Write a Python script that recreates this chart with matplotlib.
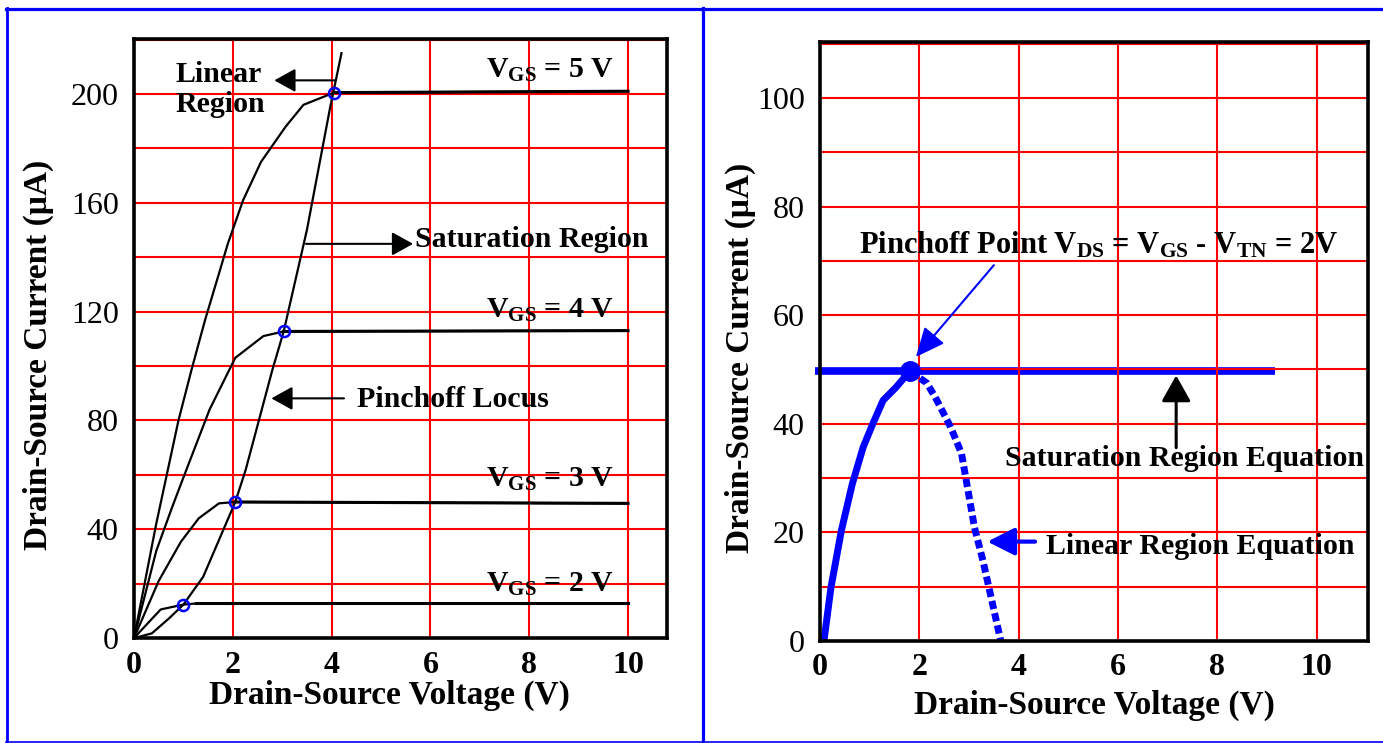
import matplotlib
matplotlib.use('Agg')
import matplotlib.pyplot as plt
from matplotlib.lines import Line2D

plt.rcParams['font.family'] = ['Liberation Serif', 'DejaVu Serif']
plt.rcParams['mathtext.fontset'] = 'custom'
plt.rcParams['mathtext.rm'] = 'Liberation Serif:bold'
plt.rcParams['mathtext.bf'] = 'Liberation Serif:bold'
plt.rcParams['mathtext.it'] = 'Liberation Serif:bold'

# ---- left panel: output characteristics
vds_5 = [0, 0.45, 0.9, 1.17, 1.44, 1.72, 1.9, 2.21, 2.57, 3.07, 3.43, 4.05, 10]
id_5 = [0, 42, 80, 99, 117, 134, 145, 161, 175, 188, 196, 200.5, 201]
vds_4 = [0, 0.45, 0.77, 1.0, 1.53, 2.05, 2.62, 3.03, 10]
id_4 = [0, 32, 48, 59, 84, 103, 111, 112.7, 113]
vds_3 = [0, 0.5, 0.95, 1.31, 1.72, 2.05, 10]
id_3 = [0, 21, 35.4, 44, 49.5, 50, 49.5]
vds_2 = [0, 0.54, 1.0, 1.26, 10]
id_2 = [0, 10.5, 12.3, 12.7, 12.7]
locus_v = [0, 0.36, 0.72, 1.0, 1.4, 2.05, 2.26, 2.8, 3.03, 3.5, 3.97, 4.2]
locus_i = [0, 1.7, 7.4, 12.3, 22.5, 50, 61.8, 98.5, 112.7, 150, 195, 215]
pinch_v = [1.0, 2.05, 3.03, 4.05]
pinch_i = [12.3, 50, 112.7, 200.5]
vgs_labels = ['5', '4', '3', '2']
vgs_label_y = [205.9, 117.6, 55.5, 16.9]

# ---- right panel: one curve, VGS - VTN = 2 V
lin_v = [0.08, 0.22, 0.43, 0.65, 0.87, 1.05, 1.27, 1.53, 1.81]
lin_i = [0, 9.8, 20.3, 28.9, 35.7, 39.7, 44.3, 46.7, 49.7]
beyond_v = [1.81, 2.15, 2.32, 2.63, 2.85, 2.98, 3.11, 3.28, 3.46, 3.64]
beyond_i = [49.7, 47.5, 44.9, 39.4, 34.5, 27.7, 20.9, 14.8, 7.4, 0]
sat_v = [-0.1, 9.16]
sat_i = 49.7
dot_v, dot_i = 1.81, 49.7

fig = plt.figure(figsize=(13.83, 7.43), dpi=100)
ax1 = fig.add_axes([0.0969, 0.1413, 0.3854, 0.8062])
ax2 = fig.add_axes([0.5929, 0.1373, 0.3962, 0.8062])


def style_axes(ax, xmax, ymax, ylab_step, ygrid_step):
    ax.set_xlim(0, xmax)
    ax.set_ylim(0, ymax)
    xt = list(range(0, 11, 2))
    ax.set_xticks(xt, labels=[str(v) for v in xt], fontweight='bold', fontsize=23)
    yt = list(range(0, int(ymax) - 9, ylab_step))
    ax.set_yticks(yt, labels=[str(v) for v in yt], fontsize=23)
    ax.set_yticks(list(range(0, int(ymax) + 1, ygrid_step)), minor=True)
    ax.grid(True, which='both', color='#ff0000', lw=1.5)
    ax.set_axisbelow(True)
    ax.tick_params(which='both', length=0)
    ax.tick_params(axis='y', pad=11)
    ax.tick_params(axis='x', pad=9)
    for sp in ax.spines.values():
        sp.set_linewidth(2.6)
        sp.set_zorder(5)


style_axes(ax1, 10.79, 220.2, 40, 20)
style_axes(ax2, 11.03, 110.3, 20, 10)

# left panel curves
for v, i in [(vds_5, id_5), (vds_4, id_4), (vds_3, id_3), (vds_2, id_2)]:
    ax1.plot(v, i, color='black', lw=1.6, zorder=2)
    ax1.plot(v[-2:], i[-2:], color='black', lw=2.2, zorder=2)
ax1.plot(locus_v, locus_i, color='black', lw=1.6, zorder=2)
ax1.plot(pinch_v, pinch_i, 'o', mfc='none', mec='#0000ff', ms=8, mew=1.8, zorder=4)

for lab, y in zip(vgs_labels, vgs_label_y):
    ax1.text(7.13, y, r'$\mathrm{V_{GS}}$ = ' + lab + ' V', fontsize=21.5,
             fontweight='bold', va='baseline', ha='left')

blk = dict(arrowstyle='-|>,head_length=0.65,head_width=0.36', mutation_scale=20,
           color='black', lw=1.5, shrinkA=0, shrinkB=0)
ax1.annotate('', xy=(2.84, 205), xytext=(4.06, 205), arrowprops=blk)
ax1.annotate('', xy=(5.65, 144.9), xytext=(3.48, 144.9), arrowprops=blk)
ax1.annotate('', xy=(2.78, 88.1), xytext=(4.25, 88.1), arrowprops=blk)
ax1.text(0.83, 204.4, 'Linear', fontsize=21.5, fontweight='bold', va='baseline')
ax1.text(0.83, 193.5, 'Region', fontsize=21.5, fontweight='bold', va='baseline')
ax1.text(5.69, 143.9, 'Saturation Region', fontsize=21.5, fontweight='bold', va='baseline')
ax1.text(4.51, 85.0, 'Pinchoff Locus', fontsize=21.5, fontweight='bold', va='baseline')

ax1.set_xlabel('Drain-Source Voltage (V)', fontsize=24, fontweight='bold')
ax1.xaxis.set_label_coords(0.48, -0.070)
ax1.set_ylabel('Drain-Source Current (μA)', fontsize=24, fontweight='bold', va='center')
ax1.yaxis.set_label_coords(-0.180, 0.472)

# right panel curves
ax2.plot([sat_v[0], dot_v], [sat_i, sat_i], color='#0000ff', lw=5.5,
         solid_capstyle='butt', clip_on=False, zorder=2)
ax2.plot([dot_v, sat_v[1]], [sat_i, sat_i], color='#0000ff', lw=5.5,
         solid_capstyle='butt', zorder=0.3)
ax2.plot(lin_v, lin_i, color='#0000ff', lw=5, zorder=3)
ax2.plot(beyond_v, beyond_i, color='#0000ff', lw=5, dashes=(1.2, 0.6),
         dash_capstyle='butt', zorder=3)
ax2.plot([dot_v], [dot_i], 'o', color='#0000ff', ms=14, zorder=4)

ax2.annotate('', xy=(1.93, 52.3), xytext=(3.5, 69.2),
             arrowprops=dict(arrowstyle='-|>,head_length=0.9,head_width=0.4',
                             mutation_scale=20, color='#0000ff', lw=1.5,
                             shrinkA=0, shrinkB=0))
ax2.annotate('', xy=(7.17, 48.9), xytext=(7.17, 35.6),
             arrowprops=dict(arrowstyle='-|>,head_length=0.8,head_width=0.45',
                             mutation_scale=20, color='black', lw=2.2,
                             shrinkA=0, shrinkB=0))
ax2.annotate('', xy=(3.37, 18.3), xytext=(4.33, 18.3),
             arrowprops=dict(arrowstyle='-|>,head_length=0.83,head_width=0.42',
                             mutation_scale=20, color='#0000ff', lw=3,
                             shrinkA=0, shrinkB=0))
ax2.text(0.78, 71.4,
         r'Pinchoff Point $\mathrm{V_{DS}}$ = $\mathrm{V_{GS}}$ - $\mathrm{V_{TN}}$ = 2V',
         fontsize=22, fontweight='bold', va='baseline')
ax2.text(3.72, 32.3, 'Saturation Region Equation', fontsize=21.5, fontweight='bold',
         va='baseline')
ax2.text(4.55, 16.05, 'Linear Region Equation', fontsize=21.5, fontweight='bold',
         va='baseline')

ax2.set_xlabel('Drain-Source Voltage (V)', fontsize=24, fontweight='bold')
ax2.xaxis.set_label_coords(0.5, -0.082)
ax2.set_ylabel('Drain-Source Current (μA)', fontsize=24, fontweight='bold', va='center')
ax2.yaxis.set_label_coords(-0.146, 0.473)

# blue frame round the two panels
W, H = 1383.0, 743.0
for (x0, y0, x1, y1, lw) in [(6, 8.5, 1383, 8.5, 2.3), (6.5, 8, 6.5, 742, 2.0),
                             (703.5, 8, 703.5, 742, 2.3), (6, 741.5, 1383, 741.5, 1.2)]:
    fig.add_artist(Line2D([x0 / W, x1 / W], [1 - y0 / H, 1 - y1 / H],
                          transform=fig.transFigure, color='#0000ff', lw=lw))

fig.savefig('out.png', dpi=100)
